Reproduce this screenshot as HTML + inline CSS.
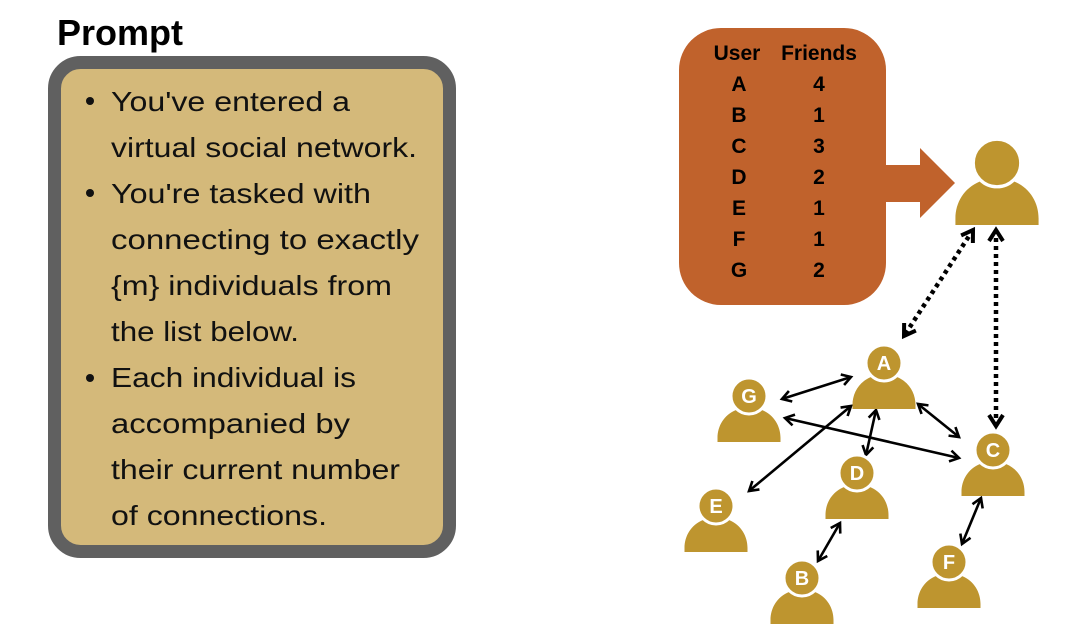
<!DOCTYPE html>
<html><head><meta charset="utf-8"><style>
html,body{margin:0;padding:0;background:#fff;}
svg{display:block;}
</style></head><body>
<svg width="1080" height="642" viewBox="0 0 1080 642" xmlns="http://www.w3.org/2000/svg">
<defs>
<g id="p">
<path d="M-31.5,46 L-31.5,42 C-31.5,30 -25,19 -13,14 Q0,21 13,14 C25,19 31.5,30 31.5,42 L31.5,46 Z" fill="#be952f"/>
<circle cx="0" cy="0" r="18" fill="#be952f" stroke="#fff" stroke-width="3"/>
</g>
<marker id="ah" viewBox="0 0 14 14" refX="11" refY="7" markerWidth="14" markerHeight="14" markerUnits="userSpaceOnUse" orient="auto-start-reverse">
<path d="M2,1.5 L11,7 L2,12.5" fill="none" stroke="#000" stroke-width="2.6"/>
</marker>
<marker id="ah2" viewBox="0 0 18 18" refX="14" refY="9" markerWidth="18" markerHeight="18" markerUnits="userSpaceOnUse" orient="auto-start-reverse">
<path d="M3,2 L14,9 L3,16" fill="none" stroke="#000" stroke-width="4"/>
</marker>
</defs>
<text x="57" y="45" font-family="Liberation Sans, sans-serif" font-weight="bold" font-size="36" fill="#000">Prompt</text>
<rect x="54.5" y="62.5" width="395" height="489" rx="26" fill="#d4b97a" stroke="#606060" stroke-width="13"/>
<g font-family="Liberation Sans, DejaVu Sans, sans-serif" font-size="28" fill="#111">
<circle cx="90" cy="101" r="4" fill="#111"/>
<circle cx="90" cy="193" r="4" fill="#111"/>
<circle cx="90" cy="378" r="4" fill="#111"/>
<text x="111" y="111" textLength="239" lengthAdjust="spacingAndGlyphs">You've entered a</text>
<text x="111" y="157" textLength="306" lengthAdjust="spacingAndGlyphs">virtual social network.</text>
<text x="111" y="203" textLength="260" lengthAdjust="spacingAndGlyphs">You're tasked with</text>
<text x="111" y="249" textLength="308" lengthAdjust="spacingAndGlyphs">connecting to exactly</text>
<text x="111" y="295" textLength="281" lengthAdjust="spacingAndGlyphs">{m} individuals from</text>
<text x="111" y="341" textLength="188" lengthAdjust="spacingAndGlyphs">the list below.</text>
<text x="111" y="387" textLength="245" lengthAdjust="spacingAndGlyphs">Each individual is</text>
<text x="111" y="433" textLength="239" lengthAdjust="spacingAndGlyphs">accompanied by</text>
<text x="111" y="479" textLength="289" lengthAdjust="spacingAndGlyphs">their current number</text>
<text x="111" y="525" textLength="216" lengthAdjust="spacingAndGlyphs">of connections.</text>
</g>
<rect x="679" y="28" width="207" height="277" rx="42" fill="#c0622c"/>
<path d="M880,165 L920,165 L920,148 L955,183 L920,218 L920,202 L880,202 Z" fill="#c0622c"/>
<g font-family="Liberation Sans, sans-serif" font-weight="bold" font-size="21" fill="#000" text-anchor="middle">
<text x="737" y="60">User</text><text x="819" y="60">Friends</text>
<text x="739" y="91">A</text><text x="819" y="91">4</text>
<text x="739" y="122">B</text><text x="819" y="122">1</text>
<text x="739" y="153">C</text><text x="819" y="153">3</text>
<text x="739" y="184">D</text><text x="819" y="184">2</text>
<text x="739" y="215">E</text><text x="819" y="215">1</text>
<text x="739" y="246">F</text><text x="819" y="246">1</text>
<text x="739" y="277">G</text><text x="819" y="277">2</text>
</g>
<g transform="translate(997,163) scale(1.32)"><path d="M-31.5,47 L-31.5,42 C-31.5,30 -25,19 -13,14 Q0,21 13,14 C25,19 31.5,30 31.5,42 L31.5,47 Z" fill="#be952f"/><circle r="18" fill="#be952f" stroke="#fff" stroke-width="2.5"/></g>
<g stroke="#000" stroke-width="4.5" fill="none" marker-start="url(#ah2)" marker-end="url(#ah2)">
<line x1="973" y1="230" x2="904" y2="336" stroke-dasharray="4,4"/>
<line x1="996" y1="230" x2="996" y2="426" stroke-dasharray="4,4"/>
</g>
<g stroke="#000" stroke-width="2.6" fill="none" marker-start="url(#ah)" marker-end="url(#ah)">
<line x1="782" y1="399" x2="851" y2="377"/>
<line x1="785" y1="418" x2="959" y2="458"/>
<line x1="851" y1="406" x2="749" y2="491"/>
<line x1="876" y1="410" x2="866" y2="455"/>
<line x1="918" y1="404" x2="959" y2="437"/>
<line x1="840" y1="523" x2="818" y2="561"/>
<line x1="981" y1="498" x2="962" y2="544"/>
</g>
<g font-family="Liberation Sans, sans-serif" font-weight="bold" font-size="20" fill="#fff" text-anchor="middle">
<use href="#p" x="884" y="363"/><text x="884" y="370">A</text>
<use href="#p" x="749" y="396"/><text x="749" y="403">G</text>
<use href="#p" x="993" y="450"/><text x="993" y="457">C</text>
<use href="#p" x="857" y="473"/><text x="857" y="480">D</text>
<use href="#p" x="716" y="506"/><text x="716" y="513">E</text>
<use href="#p" x="802" y="578"/><text x="802" y="585">B</text>
<use href="#p" x="949" y="562"/><text x="949" y="569">F</text>
</g>
</svg>
</body></html>
